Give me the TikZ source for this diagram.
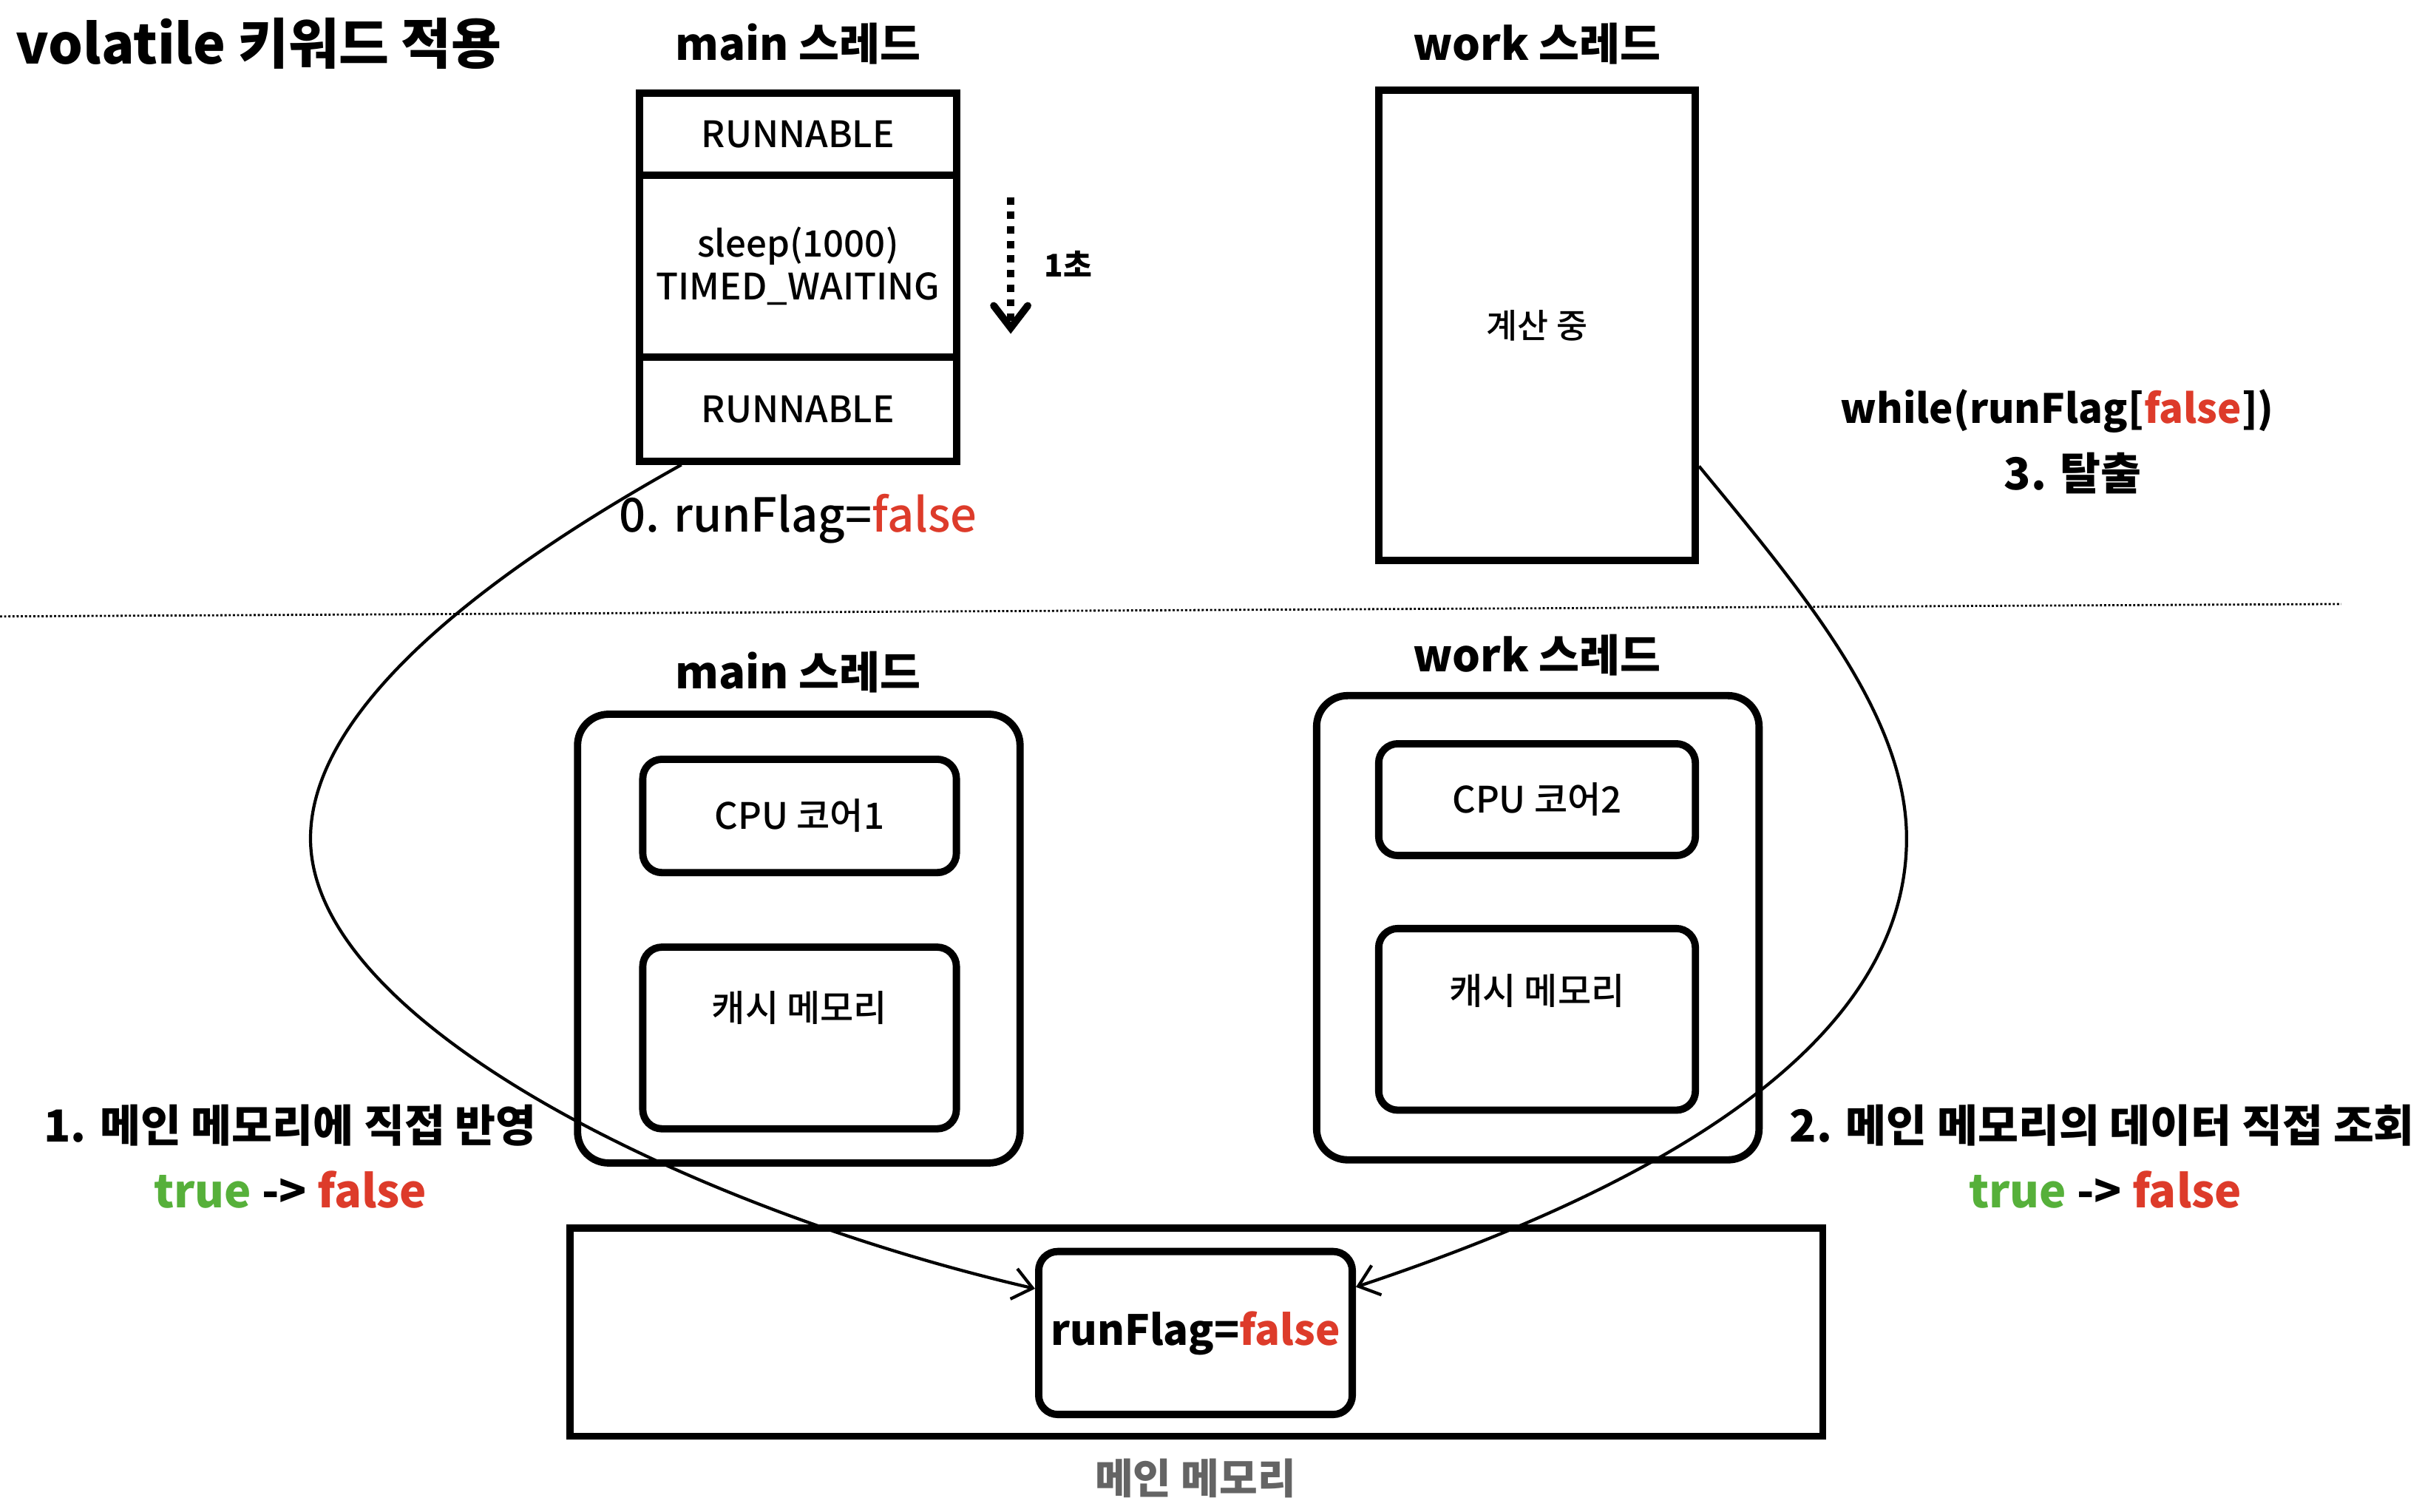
\documentclass[tikz,border=0pt]{standalone}
\usepackage{fontspec}
\setmainfont{Noto Sans CJK KR}
\newfontfamily\medfont{Noto Sans CJK KR Medium}
\usetikzlibrary{fit,calc,arrows.meta}
\definecolor{fred}{RGB}{221,59,42}
\definecolor{tgreen}{RGB}{86,176,58}
\definecolor{mgray}{RGB}{100,100,100}
\begin{document}
\begin{tikzpicture}[x=0.021cm,y=-0.021cm,
  box/.style={draw,line width=2.8pt,inner sep=0pt},
  rbox/.style={box,rounded corners=0.42cm},
  ibox/.style={box,rounded corners=0.26cm},
  hdr/.style={font=\bfseries\fontsize{17}{20}\selectfont,inner sep=0pt},
  lbl/.style={font=\bfseries\fontsize{17}{20}\selectfont,inner sep=0pt},
  tf/.style={font=\bfseries\fontsize{17.4}{20}\selectfont,inner sep=0pt},
  itxt/.style={font=\medfont\fontsize{14}{16.5}\selectfont,inner sep=0pt,align=center},
  flow/.style={line width=1.2pt,-{Straight Barb[length=2.6mm,width=4.2mm]}},
  dotarrow/.style={line width=2.8pt,dash pattern=on 2.8pt off 2.8pt,-{Straight Barb[length=3mm,width=4.6mm,line cap=round]}},
  sepline/.style={line width=0.8pt,dash pattern=on 0.8pt off 0.8pt}
]
\useasboundingbox (0,0) rectangle (1560,973.33);

% title
\node[font=\bfseries\fontsize{21}{24}\selectfont,inner sep=0pt,anchor=west] (title) at (10,28) {volatile 키워드 적용};

% ---- top: main thread
\node[hdr] (mainlbl) at (514,28) {main 스레드};
\node[box,fit={(412,60)(616,113)}] (mt1) {};
\node[box,fit={(412,113)(616,230)}] (mt2) {};
\node[box,fit={(412,230)(616,297)}] (mt3) {};
\node[itxt] (mt1t) at (mt1.center) {RUNNABLE};
\node[itxt] (mt2t) at (mt2.center) {sleep(1000)\\TIMED\_WAITING};
\node[itxt] (mt3t) at (mt3.center) {RUNNABLE};
\coordinate (da1) at (651,127);
\coordinate (da2) at (651,215);
\draw[dotarrow] (da1) -- (da2);
\node[font=\bfseries\fontsize{12}{14}\selectfont,inner sep=0pt] (sec) at (688,170) {1초};
\node[font=\medfont\fontsize{18}{20}\selectfont,inner sep=0pt] (set0) at (514,334) {0. runFlag=\textcolor{fred}{false}};

% ---- top: work thread
\node[hdr] (worklbl) at (990,28) {work 스레드};
\node[box,fit={(888,58)(1092,361)}] (wt) {};
\node[font=\medfont\fontsize{13}{15}\selectfont,inner sep=0pt] (wtt) at (wt.center) {계산 중};
\node[font=\bfseries\fontsize{15.5}{20}\selectfont,inner sep=0pt] (whl) at (1325,265) {while(runFlag[\textcolor{fred}{false}])};
\node[hdr] (esc) at (1335,305) {3. 탈출};

% separator
\coordinate (sl) at (0,397);
\coordinate (sr) at (1508,389);
\draw[sepline] (sl) -- (sr);

% ---- bottom: main thread
\node[hdr] (mainlbl2) at (514,433) {main 스레드};
\node[rbox,fit={(372,460)(657,749)}] (mth) {};
\node[ibox,fit={(414,489)(616,562)}] (cpu1) {};
\node[itxt] (cpu1t) at (cpu1.center) {CPU 코어1};
\node[ibox,fit={(414,610)(616,727)}] (cache1) {};
\node[itxt] (cache1t) at (515,649) {캐시 메모리};

% ---- bottom: work thread
\node[hdr] (worklbl2) at (990,422) {work 스레드};
\node[rbox,fit={(848,448)(1133,747)}] (wth) {};
\node[ibox,fit={(888,479)(1092,551)}] (cpu2) {};
\node[itxt] (cpu2t) at (cpu2.center) {CPU 코어2};
\node[ibox,fit={(888,598)(1092,715)}] (cache2) {};
\node[itxt] (cache2t) at (990,638) {캐시 메모리};

% ---- main memory
\node[box,fit={(367,791)(1174,925)}] (mem) {};
\node[ibox,fit={(669,806)(871,911)}] (rf) {};
\node[font=\bfseries\fontsize{16}{20}\selectfont,inner sep=0pt] (rft) at (rf.center) {runFlag=\textcolor{fred}{false}};
\node[font=\bfseries\fontsize{16}{20}\selectfont,text=mgray,inner sep=0pt] (memlbl) at (770,952) {메인 메모리};

% ---- step labels
\node[lbl] (l1) at (187,725) {1. 메인 메모리에 직접 반영};
\node[tf] (tf1) at (187,766) {\textcolor{tgreen}{true} -> \textcolor{fred}{false}};
\node[lbl] (l2) at (1354,725) {2. 메인 메모리의 데이터 직접 조회};
\node[tf] (tf2) at (1356,766) {\textcolor{tgreen}{true} -> \textcolor{fred}{false}};

% ---- connectors
\coordinate (s1) at ($(mt3.south west)!0.14!(mt3.south east)$);
\coordinate (e1) at ($(rf.north west)!0.24!(rf.south west)$);
\coordinate (s2) at ($(wt.north east)!0.795!(wt.south east)$);
\coordinate (e2) at ($(rf.north east)!0.23!(rf.south east)$);
\coordinate (k1) at (200,540);
\coordinate (k2) at (1228,540);
\draw[flow] (s1) .. controls (330,360) and (200,450) .. (k1)
  .. controls (200,660) and (450,780) .. (e1);
\draw[flow] (s2) .. controls (1160,380) and (1228,460) .. (k2)
  .. controls (1228,680) and (1050,770) .. (e2);
\end{tikzpicture}
\end{document}
